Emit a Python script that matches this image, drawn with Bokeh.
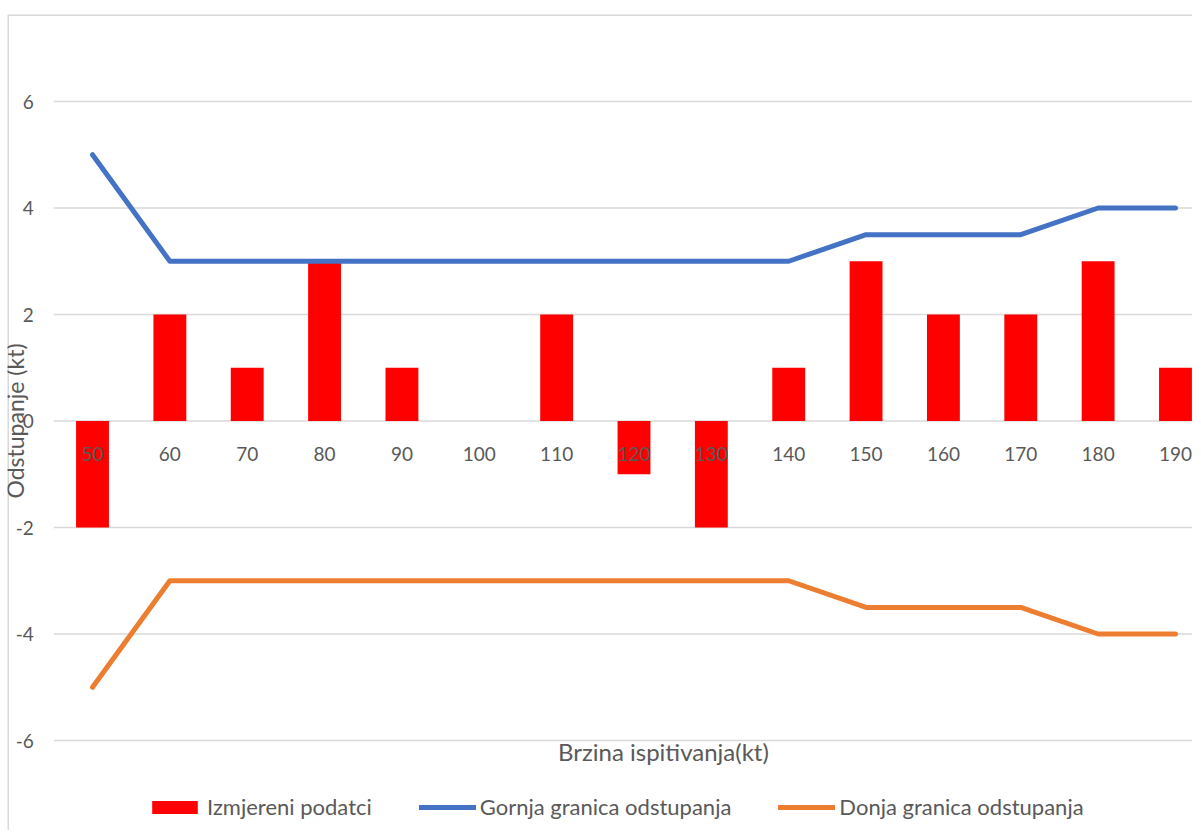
from math import pi
from bokeh.plotting import figure
from bokeh.models import (Range1d, FixedTicker, Label, Legend, LegendItem, ColumnDataSource,
                          LinearAxis, Span)
from bokeh.embed import file_html
from bokeh.resources import INLINE

speeds = [50, 60, 70, 80, 90, 100, 110, 120, 130, 140, 150, 160, 170, 180, 190]
measured = [-2, 2, 1, 3, 1, 0, 2, -1, -2, 1, 3, 2, 2, 3, 1]
upper = [5, 3, 3, 3, 3, 3, 3, 3, 3, 3, 3.5, 3.5, 3.5, 4, 4]
lower = [-5, -3, -3, -3, -3, -3, -3, -3, -3, -3, -3.5, -3.5, -3.5, -4, -4]
y_ticks = [-6, -4, -2, 0, 2, 4, 6]
y_tick_labels = ["-6", "-4", "-2", "0", "2", "4", "6"]

FONT = "Lato"
TXT = "#595959"
GRID = "#d9d9d9"

X0, X1 = 39.01, 192.2      # chart area incl. margins
Y0, Y1 = -7.69, 7.634
PLOT_LEFT = 45              # left edge of plot area (category band start)

src = ColumnDataSource(dict(x=speeds, m=measured, u=upper, l=lower))
grid_src = ColumnDataSource(dict(y=y_ticks))

p = figure(width=1192, height=830, output_backend="svg", toolbar_location=None,
           x_range=Range1d(X0, X1), y_range=Range1d(Y0, Y1),
           x_axis_location=None, y_axis_location=None,
           min_border_left=7, min_border_top=14, min_border_right=0, min_border_bottom=0)
p.outline_line_color = None
p.xgrid.visible = False
p.ygrid.visible = False

# chart border (left / top visible in reference)
p.add_layout(Span(location=X0, dimension="height", line_color=GRID, line_width=3))
p.add_layout(Span(location=Y1, dimension="width", line_color=GRID, line_width=3))

# gridlines in plot area
p.segment(x0=PLOT_LEFT, x1=X1 + 5, y0="y", y1="y", source=grid_src, line_color=GRID, line_width=1.5)

bars = p.vbar(x="x", top="m", bottom=0, width=4.25, fill_color="#ff0000", line_color=None, source=src)
lu = p.line(x="x", y="u", source=src, line_color="#4472c4", line_width=5, line_cap="round", line_join="round")
ll = p.line(x="x", y="l", source=src, line_color="#ed7d31", line_width=5, line_cap="round", line_join="round")

xaxis = LinearAxis(ticker=FixedTicker(ticks=speeds), fixed_location=0,
                   axis_line_color=None, major_tick_line_color=None, minor_tick_line_color=None,
                   major_label_standoff=20, major_label_text_font=FONT,
                   major_label_text_font_size="19px", major_label_text_color=TXT)
p.add_layout(xaxis, "below")

yaxis = LinearAxis(ticker=FixedTicker(ticks=y_ticks), fixed_location=PLOT_LEFT,
                   axis_line_color=None, major_tick_line_color=None, minor_tick_line_color=None,
                   major_label_standoff=14, major_label_text_font=FONT,
                   major_label_text_font_size="19px", major_label_text_color=TXT,
                   major_label_overrides={t: s for t, s in zip(y_ticks, y_tick_labels)})
p.add_layout(yaxis, "left")

# axis titles
p.add_layout(Label(x=39.96, y=0, text="Odstupanje (kt)", angle=pi / 2, text_align="center",
                   text_baseline="middle", text_font=FONT, text_font_size="23px", text_color=TXT))
p.add_layout(Label(x=123.8, y=-6.21, text="Brzina ispitivanja(kt)", text_align="center",
                   text_baseline="middle", text_font=FONT, text_font_size="24px", text_color=TXT))

legend = Legend(items=[LegendItem(label="Izmjereni podatci", renderers=[bars]),
                       LegendItem(label="Gornja granica odstupanja", renderers=[lu]),
                       LegendItem(label="Donja granica odstupanja", renderers=[ll])],
                orientation="horizontal", location=(139, 10), spacing=47, label_standoff=4,
                glyph_width=57, glyph_height=16, padding=0, margin=0,
                border_line_color=None, background_fill_alpha=0,
                label_text_font=FONT, label_text_font_size="22px", label_text_color=TXT)
p.add_layout(legend)

open("out.html", "w").write(file_html(p, INLINE))
